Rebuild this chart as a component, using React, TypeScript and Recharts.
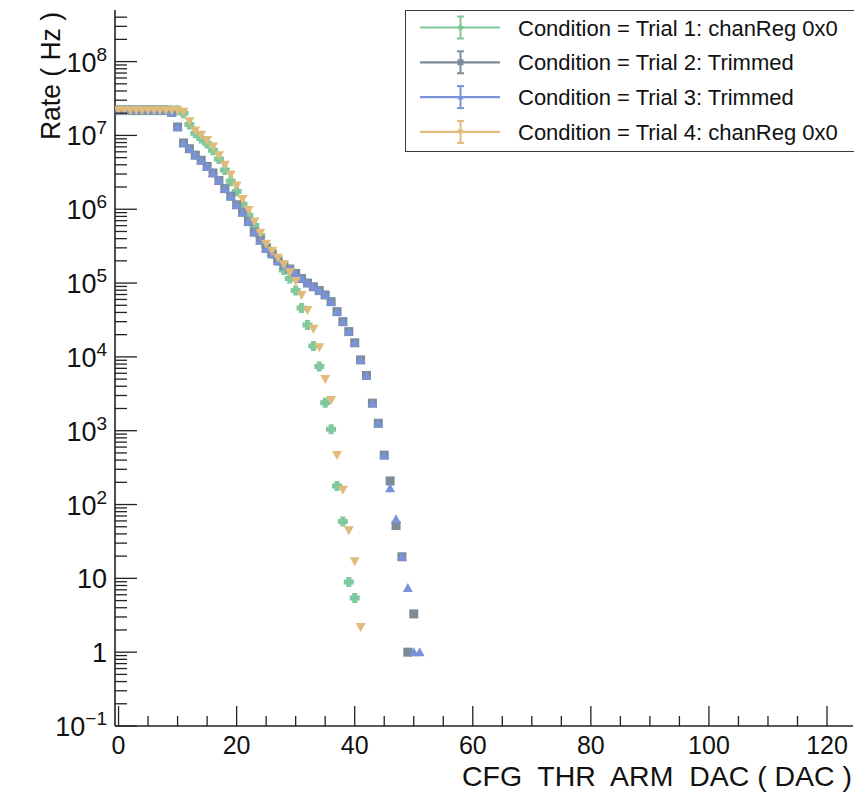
import { ScatterChart, Scatter, XAxis, YAxis, Legend, Label } from "recharts";

const FONT = "'Liberation Sans', Arial, sans-serif";

// DAC setting of each point (x)
const DAC_STEPS = [
  0, 1, 2, 3, 4, 5, 6, 7, 8, 9, 10, 11, 12, 13, 14, 15, 16, 17, 18, 19, 20, 21,
  22, 23, 24, 25, 26, 27, 28, 29, 30, 31, 32, 33, 34, 35, 36, 37, 38, 39, 40,
  41, 42, 43, 44, 45, 46, 47, 48, 49, 50, 51,
];

// rate in Hz, one value per DAC step starting at 0
const TRIAL1_RATE = [
  2.2e7, 2.2e7, 2.2e7, 2.2e7, 2.2e7, 2.2e7, 2.2e7, 2.2e7, 2.2e7, 2.2e7, 2.2e7,
  2.0e7, 1.41e7, 1.07e7, 9.1e6, 7.8e6, 6.3e6, 4.8e6, 3.4e6, 2.4e6, 1.74e6,
  1.17e6, 8.3e5, 6.0e5, 4.4e5, 3.2e5, 2.5e5, 2.0e5, 1.5e5, 1.15e5, 7.9e4,
  4.6e4, 2.7e4, 1.4e4, 7.4e3, 2.4e3, 1.05e3, 178, 59, 8.9, 5.4,
];
const TRIAL2_RATE = [
  2.2e7, 2.2e7, 2.2e7, 2.2e7, 2.2e7, 2.2e7, 2.2e7, 2.2e7, 2.2e7, 2.05e7,
  1.3e7, 7.9e6, 6.6e6, 5.4e6, 4.6e6, 3.8e6, 3.1e6, 2.45e6, 1.9e6, 1.5e6,
  1.15e6, 9.1e5, 6.8e5, 4.9e5, 3.8e5, 2.95e5, 2.5e5, 2.0e5, 1.74e5, 1.55e5,
  1.35e5, 1.15e5, 1.0e5, 8.9e4, 7.9e4, 6.9e4, 5.6e4, 4.1e4, 3.0e4, 2.2e4,
  1.55e4, 9.1e3, 5.6e3, 2.36e3, 1.26e3, 466, 209, 52, 19.6, 1, 3.3,
];
const TRIAL3_RATE = [
  2.2e7, 2.2e7, 2.2e7, 2.2e7, 2.2e7, 2.2e7, 2.2e7, 2.2e7, 2.2e7, 2.05e7,
  1.3e7, 7.9e6, 6.6e6, 5.4e6, 4.6e6, 3.8e6, 3.1e6, 2.45e6, 1.9e6, 1.5e6,
  1.15e6, 9.1e5, 6.8e5, 4.9e5, 3.8e5, 2.95e5, 2.5e5, 2.0e5, 1.74e5, 1.55e5,
  1.35e5, 1.15e5, 1.0e5, 8.9e4, 7.9e4, 6.9e4, 5.6e4, 4.1e4, 3.0e4, 2.2e4,
  1.55e4, 9.1e3, 5.6e3, 2.36e3, 1.26e3, 466, 166, 63, 19.6, 7.4, 1, 1,
];
const TRIAL4_RATE = [
  2.2e7, 2.2e7, 2.2e7, 2.2e7, 2.2e7, 2.2e7, 2.2e7, 2.2e7, 2.2e7, 2.2e7, 2.2e7,
  2.1e7, 1.55e7, 1.17e7, 1.02e7, 8.7e6, 7.1e6, 5.4e6, 4.0e6, 2.95e6, 2.1e6,
  1.38e6, 9.8e5, 6.8e5, 4.8e5, 3.4e5, 2.75e5, 2.2e5, 1.8e5, 1.4e5, 1.07e5,
  6.9e4, 4.3e4, 2.4e4, 1.35e4, 5.0e3, 2.6e3, 468, 158, 45, 17, 2.2,
];

const X_TICKS = [
  0, 5, 10, 15, 20, 25, 30, 35, 40, 45, 50, 55, 60, 65, 70, 75, 80, 85, 90, 95,
  100, 105, 110, 115, 120,
];
const Y_DECADES = [-1, 0, 1, 2, 3, 4, 5, 6, 7, 8];

type MarkerKind = "cross" | "square" | "up" | "down";

const SERIES: { name: string; color: string; marker: MarkerKind; rates: number[] }[] = [
  { name: "Condition = Trial 1: chanReg 0x0", color: "#80c99c", marker: "cross", rates: TRIAL1_RATE },
  { name: "Condition = Trial 2: Trimmed", color: "#7c8b98", marker: "square", rates: TRIAL2_RATE },
  { name: "Condition = Trial 3: Trimmed", color: "#7a93d8", marker: "up", rates: TRIAL3_RATE },
  { name: "Condition = Trial 4: chanReg 0x0", color: "#e1bb79", marker: "down", rates: TRIAL4_RATE },
];

// log axis ticks: 1..9 x 10^n, majors at the decades
const yTicks: number[] = [];
Y_DECADES.forEach((e) => {
  for (let m = 1; m <= 9; m++) {
    const v = m * Math.pow(10, e);
    if (v < 4.9e8) yTicks.push(v);
  }
});

function Marker({ kind, cx, cy, color, size }: { kind: MarkerKind; cx: number; cy: number; color: string; size: number }) {
  const s = size / 2;
  if (kind === "square")
    return <rect x={cx - s} y={cy - s} width={size} height={size} fill={color} />;
  if (kind === "up")
    return <polygon points={`${cx},${cy - s} ${cx + s},${cy + s * 0.8} ${cx - s},${cy + s * 0.8}`} fill={color} />;
  if (kind === "down")
    return <polygon points={`${cx - s},${cy - s * 0.8} ${cx + s},${cy - s * 0.8} ${cx},${cy + s}`} fill={color} />;
  const a = s * 0.5;
  return (
    <polygon
      points={`${cx - a},${cy - s} ${cx + a},${cy - s} ${cx + a},${cy - a} ${cx + s},${cy - a} ${cx + s},${cy + a} ${cx + a},${cy + a} ${cx + a},${cy + s} ${cx - a},${cy + s} ${cx - a},${cy + a} ${cx - s},${cy + a} ${cx - s},${cy - a} ${cx - a},${cy - a}`}
      fill={color}
    />
  );
}

function XTick(props: any) {
  const { x, y, payload } = props;
  const major = payload.value % 20 === 0;
  return (
    <g>
      <line x1={x} x2={x} y1={y} y2={y - (major ? 20 : 10)} stroke="#222" strokeWidth={1.3} />
      {major && (
        <text x={x} y={y + 28} textAnchor="middle" fontSize={25} fontFamily={FONT} fill="#111">
          {payload.value}
        </text>
      )}
    </g>
  );
}

function YTick(props: any) {
  const { x, y, payload } = props;
  const lg = Math.log10(payload.value);
  const e = Math.round(lg);
  const major = Math.abs(lg - e) < 1e-6;
  return (
    <g>
      <line x1={x} x2={x + (major ? 22 : 12)} y1={y} y2={y} stroke="#222" strokeWidth={1.3} />
      {major && (
        <text x={107} y={y + 10} textAnchor="end" fontSize={27} fontFamily={FONT} fill="#111">
          {e === 0 ? "1" : "10"}
          {e !== 0 && e !== 1 && (
            <tspan dy={-11} fontSize={19}>
              {e < 0 ? "\u2212" + -e : e}
            </tspan>
          )}
        </text>
      )}
    </g>
  );
}

function LegendBox() {
  return (
    <div
      style={{
        width: 470,
        height: 142,
        border: "1.5px solid #3a3a3a",
        boxSizing: "border-box",
        background: "#fff",
      }}
    >
      <svg width={470} height={140} style={{ display: "block" }}>
        {SERIES.map((s, i) => {
          const cy = 16.5 + i * 34.8;
          return (
            <g key={s.name}>
              <line x1={14} x2={94} y1={cy} y2={cy} stroke={s.color} strokeWidth={2.2} />
              <line x1={54.5} x2={54.5} y1={cy - 11} y2={cy + 11} stroke={s.color} strokeWidth={2} />
              <line x1={51} x2={58} y1={cy - 11} y2={cy - 11} stroke={s.color} strokeWidth={2} />
              <line x1={51} x2={58} y1={cy + 11} y2={cy + 11} stroke={s.color} strokeWidth={2} />
              <Marker kind={s.marker} cx={54.5} cy={cy} color={s.color} size={6} />
              <text x={112} y={cy + 8} fontSize={22} fontFamily={FONT} fill="#111">
                {s.name}
              </text>
            </g>
          );
        })}
      </svg>
    </div>
  );
}

export default function App() {
  return (
    <div style={{ position: "absolute", left: 0, top: 0, width: 854, height: 792, overflow: "hidden", background: "#fff" }}>
      <ScatterChart width={854} height={792} margin={{ top: 10, right: 1, bottom: 0, left: 0 }}>
        <XAxis
          type="number"
          dataKey="dac"
          domain={[-0.6, 124.4]}
          allowDataOverflow
          ticks={X_TICKS}
          interval={0}
          tick={<XTick />}
          tickLine={false}
          tickSize={0}
          tickMargin={0}
          height={66}
          axisLine={{ stroke: "#222", strokeWidth: 1.6 }}
        >
          <Label
            content={() => (
              <text
                x={852}
                y={786}
                textAnchor="end"
                fontSize={28}
                fontFamily={FONT}
                fill="#111"
                textLength={390}
                lengthAdjust="spacingAndGlyphs"
                style={{ whiteSpace: "pre" }}
              >
                CFG  THR  ARM  DAC ( DAC )
              </text>
            )}
          />
        </XAxis>
        <YAxis
          type="number"
          dataKey="rate"
          scale="log"
          domain={[0.1, 5e8]}
          allowDataOverflow
          ticks={yTicks}
          interval={0}
          tick={<YTick />}
          tickLine={false}
          tickSize={0}
          tickMargin={0}
          width={115}
          axisLine={{ stroke: "#222", strokeWidth: 1.6 }}
        >
          <Label
            content={() => (
              <text
                transform="translate(60,12) rotate(-90)"
                textAnchor="end"
                fontSize={28}
                fontFamily={FONT}
                fill="#111"
                textLength={128}
                lengthAdjust="spacingAndGlyphs"
                style={{ whiteSpace: "pre" }}
              >
                Rate ( Hz )
              </text>
            )}
          />
        </YAxis>
        <Legend
          layout="vertical"
          align="center"
          verticalAlign="middle"
          wrapperStyle={{ left: 405, top: 10, width: 470 }}
          content={() => <LegendBox />}
        />
        {SERIES.map((s) => (
          <Scatter
            key={s.name}
            name={s.name}
            data={s.rates.map((rate, i) => ({ dac: DAC_STEPS[i], rate }))}
            fill={s.color}
            isAnimationActive={false}
            shape={(p: any) => (
              <Marker kind={s.marker} cx={p.cx} cy={p.cy} color={s.color} size={s.marker === "square" ? 9 : 10} />
            )}
          />
        ))}
      </ScatterChart>
    </div>
  );
}
